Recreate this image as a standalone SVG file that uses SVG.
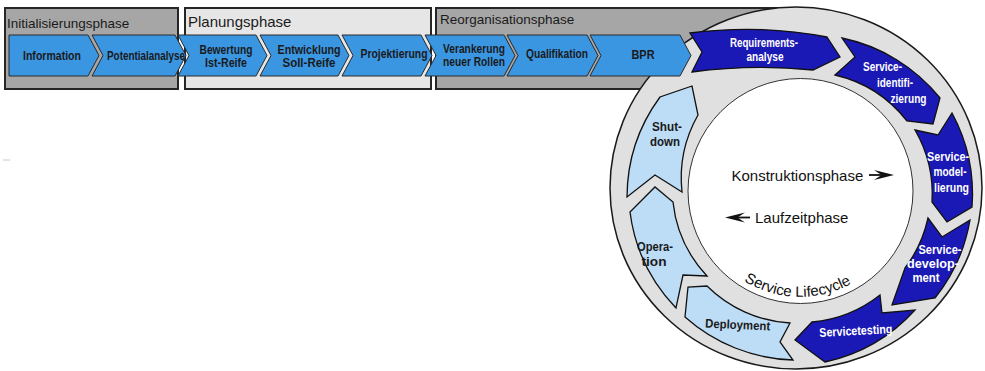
<svg xmlns="http://www.w3.org/2000/svg" width="985" height="371" viewBox="0 0 985 371">
  <style>
    .phase { stroke: #262626; stroke-width: 2; }
    .chev { fill: #3b96e2; stroke: #2a2a2a; stroke-width: 1; }
    .dark { fill: #1b19b6; stroke: #111; stroke-width: 1.3; }
    .light { fill: #bddcf6; stroke: #111; stroke-width: 1.3; }
    .ptitle { font-family: "Liberation Sans", Arial, sans-serif; fill: #1a1a1a; }
    .lbl { font-family: "Liberation Sans Narrow", "Arial Narrow", "Liberation Sans", sans-serif; font-weight: bold; font-size: 13px; fill: #1a1a1a; text-anchor: middle; }
    .rl { font-family: "Liberation Sans Narrow", "Arial Narrow", "Liberation Sans", sans-serif; font-weight: bold; font-size: 12.5px; text-anchor: middle; }
    .w { fill: #ffffff; }
    .b { fill: #1a1a1a; }
    .inner { font-family: "Liberation Sans", Arial, sans-serif; font-size: 15px; fill: #111; }
  </style>
  <defs>
    <path id="lifecycle-arc" d="M708,244 A106.5,106.5 0 0 0 892,244"/>
  </defs>

  <!-- phase boxes -->
  <g id="phase-reorganisation">
    <rect class="phase" x="436" y="8" width="360" height="81" fill="#a6a6a6"/>
    <text class="ptitle" x="440" y="24" font-size="13.5">Reorganisationsphase</text>
  </g>
  <g id="phase-initialisierung">
    <rect class="phase" x="5" y="8" width="173" height="81" fill="#a6a6a6"/>
    <text class="ptitle" x="7" y="28" font-size="13.5">Initialisierungsphase</text>
  </g>
  <g id="phase-planung">
    <rect class="phase" x="185" y="8" width="246" height="81" fill="#e6e6e6"/>
    <text class="ptitle" x="188" y="27" font-size="15">Planungsphase</text>
  </g>

  <!-- lifecycle ring -->
  <g id="ring">
    <ellipse cx="796" cy="188" rx="186" ry="181" fill="#e0e0e0" stroke="#1a1a1a" stroke-width="1.5"/>
    <circle cx="800.5" cy="191" r="112.5" fill="#ffffff" stroke="#333" stroke-width="1"/>
  </g>

  <!-- process chevrons -->
  <g id="information">
    <path class="chev" d="M9,35 L88,35 L99,55.5 L88,76 L9,76 Z"/>
    <text class="lbl" x="52" y="60" textLength="58" lengthAdjust="spacingAndGlyphs">Information</text>
  </g>
  <g id="potentialanalyse">
    <path class="chev" d="M92,35 L175,35 L186,55.5 L175,76 L92,76 L103,55.5 Z"/>
    <text class="lbl" x="146" y="60" textLength="78" lengthAdjust="spacingAndGlyphs">Potentialanalyse</text>
  </g>
  <g id="bewertung">
    <path class="chev" d="M178,35 L256,35 L267,55.5 L256,76 L178,76 L189,55.5 Z"/>
    <text class="lbl" x="226" y="54" textLength="53" lengthAdjust="spacingAndGlyphs">Bewertung</text>
    <text class="lbl" x="226" y="67" textLength="42" lengthAdjust="spacingAndGlyphs">Ist-Reife</text>
  </g>
  <g id="entwicklung">
    <path class="chev" d="M260,35 L338,35 L349,55.5 L338,76 L260,76 L271,55.5 Z"/>
    <text class="lbl" x="309" y="54" textLength="63" lengthAdjust="spacingAndGlyphs">Entwicklung</text>
    <text class="lbl" x="309" y="67" textLength="53" lengthAdjust="spacingAndGlyphs">Soll-Reife</text>
  </g>
  <g id="projektierung">
    <path class="chev" d="M342,35 L421,35 L432,55.5 L421,76 L342,76 L353,55.5 Z"/>
    <text class="lbl" x="394" y="57.5" textLength="67" lengthAdjust="spacingAndGlyphs">Projektierung</text>
  </g>
  <g id="verankerung">
    <path class="chev" d="M425,35 L504,35 L515,55.5 L504,76 L425,76 L436,55.5 Z"/>
    <text class="lbl" x="474" y="52.5" textLength="62" lengthAdjust="spacingAndGlyphs">Verankerung</text>
    <text class="lbl" x="474" y="65.5" textLength="62" lengthAdjust="spacingAndGlyphs">neuer Rollen</text>
  </g>
  <g id="qualifikation">
    <path class="chev" d="M507,35 L587,35 L598,55.5 L587,76 L507,76 L518,55.5 Z"/>
    <text class="lbl" x="557" y="57.5" textLength="62" lengthAdjust="spacingAndGlyphs">Qualifikation</text>
  </g>
  <g id="bpr">
    <path class="chev" d="M590,35 L680,35 L691,55.5 L680,76 L590,76 L601,55.5 Z"/>
    <text class="lbl" x="643" y="59" textLength="23" lengthAdjust="spacingAndGlyphs">BPR</text>
  </g>

  <!-- service lifecycle stages -->
  <g id="serviceidentifizierung">
    <path class="dark" d="M835,75 L855,57 L842,38 A170,170 0 0 1 940,98 L933,124 L907,121 A128,128 0 0 0 835,75 Z"/>
    <text class="rl w" x="882.5" y="70.5" textLength="39" lengthAdjust="spacingAndGlyphs">Service-</text>
    <text class="rl w" x="895" y="87" textLength="36" lengthAdjust="spacingAndGlyphs">identifi-</text>
    <text class="rl w" x="908.5" y="102.5" textLength="36" lengthAdjust="spacingAndGlyphs">zierung</text>
  </g>
  <g id="servicemodellierung">
    <path class="dark" d="M915,130 L938,135 L952,113 A170,170 0 0 1 972,207 L947,222 L932,202 A128,128 0 0 0 915,130 Z"/>
    <text class="rl w" x="948" y="160.5" textLength="42" lengthAdjust="spacingAndGlyphs">Service-</text>
    <text class="rl w" x="950" y="176" textLength="33" lengthAdjust="spacingAndGlyphs">model-</text>
    <text class="rl w" x="951.5" y="191.5" textLength="35" lengthAdjust="spacingAndGlyphs">lierung</text>
  </g>
  <g id="servicedevelopment">
    <path class="dark" d="M928,218 L942,237 L970,220 A170,170 0 0 1 935,298 L892,305 L905,268 A128,128 0 0 0 928,218 Z"/>
    <text class="rl w" x="940" y="254" textLength="43" lengthAdjust="spacingAndGlyphs">Service-</text>
    <text class="rl w" x="933" y="268" textLength="52" lengthAdjust="spacingAndGlyphs">develop-</text>
    <text class="rl w" x="926" y="282" textLength="27" lengthAdjust="spacingAndGlyphs">ment</text>
  </g>
  <g id="servicetesting">
    <path class="dark" d="M880,295 L882,313 L915,310 A170,170 0 0 1 825,362 L795,340 L812,322 A128,128 0 0 0 880,295 Z"/>
    <text class="rl w" x="856" y="335" transform="rotate(-3 856 335)" textLength="73" lengthAdjust="spacingAndGlyphs">Servicetesting</text>
  </g>
  <g id="deployment">
    <path class="light" d="M790,323 L780,342 L793,360 A170,170 0 0 1 685,317 L688,287 L707,286 A128,128 0 0 0 790,323 Z"/>
    <text class="rl b" x="737.5" y="329" transform="rotate(2.5 737.5 329)" textLength="65" lengthAdjust="spacingAndGlyphs">Deployment</text>
  </g>
  <g id="operation">
    <path class="light" d="M707,276 L683,275 L676,308 A170,170 0 0 1 630,212 L655,187 L673,202 A128,128 0 0 0 707,276 Z"/>
    <text class="rl b" x="655" y="250.5" textLength="36" lengthAdjust="spacingAndGlyphs">Opera-</text>
    <text class="rl b" x="654" y="265.5" textLength="25" lengthAdjust="spacingAndGlyphs">tion</text>
  </g>
  <g id="shutdown">
    <path class="light" d="M682,192 L655,175 L627,197 A170,170 0 0 1 660,97 L692,86 L698,115 A128,128 0 0 0 682,192 Z"/>
    <text class="rl b" x="667" y="131" textLength="30" lengthAdjust="spacingAndGlyphs">Shut-</text>
    <text class="rl b" x="665" y="145.5" textLength="30" lengthAdjust="spacingAndGlyphs">down</text>
  </g>
  <g id="requirementsanalyse">
    <path class="dark" d="M690,33 Q760,24 827,37 L840,57 L813,70 Q752,64 692,72 L702,52 Z"/>
    <text class="rl w" x="764" y="46.5" textLength="68" lengthAdjust="spacingAndGlyphs">Requirements-</text>
    <text class="rl w" x="765" y="61" textLength="37" lengthAdjust="spacingAndGlyphs">analyse</text>
  </g>

  <!-- direction indicators inside the ring -->
  <g id="connectors">
    <line x1="869" y1="175" x2="882" y2="175" stroke="#111" stroke-width="1.8"/>
    <path d="M894,175 L874,170 L881.5,175 L874,180 Z" fill="#111"/>
    <line x1="737" y1="217.5" x2="750" y2="217.5" stroke="#111" stroke-width="1.8"/>
    <path d="M725,217.5 L745,212.5 L737.5,217.5 L745,222.5 Z" fill="#111"/>
  </g>

  <g id="ring-labels">
    <text class="inner" x="731.5" y="181">Konstruktionsphase</text>
    <text class="inner" x="755" y="222.5">Laufzeitphase</text>
    <text class="inner" font-size="15.5"><textPath href="#lifecycle-arc" startOffset="48.8%" text-anchor="middle">Service Lifecycle</textPath></text>
  </g>

  <line x1="3" y1="160" x2="10" y2="160" stroke="#c8c8c8" stroke-width="1"/>
</svg>
